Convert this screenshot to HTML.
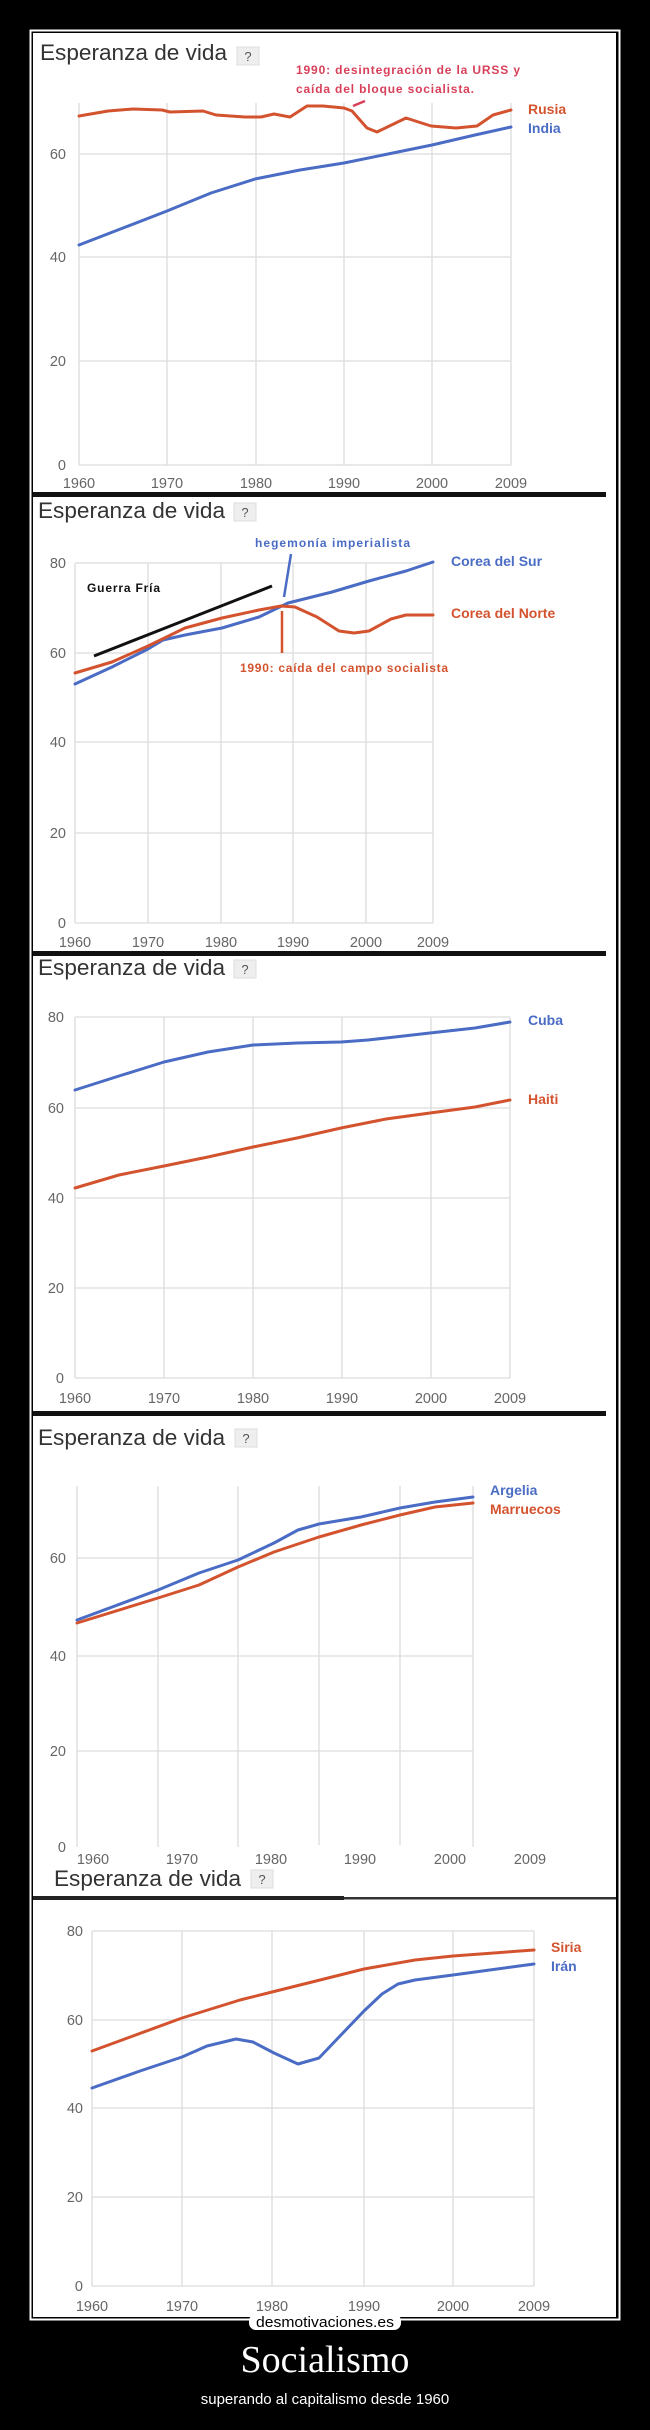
<!DOCTYPE html>
<html><head><meta charset="utf-8"><style>
html,body{margin:0;padding:0;background:#000;}
svg{display:block;}
.t{font-family:"Liberation Sans",sans-serif;font-size:22px;fill:#333;}
.ax{font-family:"Liberation Sans",sans-serif;font-size:14.5px;fill:#666;}
.g{stroke:#dcdcdc;stroke-width:1.3;fill:none;}
.b{stroke:#4a6cc4;stroke-width:3;fill:none;stroke-linejoin:round;stroke-linecap:round;}
.r{stroke:#d4532f;stroke-width:3;fill:none;stroke-linejoin:round;stroke-linecap:round;}
.lb{font-family:"Liberation Sans",sans-serif;font-size:14px;font-weight:bold;fill:#4a6cc4;}
.lr{font-family:"Liberation Sans",sans-serif;font-size:14px;font-weight:bold;fill:#d4532f;}
.an{font-family:"Liberation Sans",sans-serif;font-size:12px;font-weight:bold;}
</style></head><body>
<svg width="650" height="2430" viewBox="0 0 650 2430" xmlns="http://www.w3.org/2000/svg">
<rect width="650" height="2430" fill="#000"/>
<rect x="30.5" y="30.5" width="589" height="2289" fill="none" stroke="#fff" stroke-width="2"/>
<rect x="33" y="33" width="583" height="2284" fill="#fff"/>

<!-- Panel 1 -->
<text class="t" x="40" y="60" textLength="187" lengthAdjust="spacingAndGlyphs">Esperanza de vida</text>
<rect x="237" y="47" width="22" height="18" fill="#eee" stroke="#ddd"/>
<text x="248" y="61" text-anchor="middle" font-family="Liberation Sans" font-size="13" fill="#555">?</text>
<g class="g">
<path d="M79 103V465M167 103V465M256 103V465M344 103V465M432 103V465M511 103V465"/>
<path d="M79 465H511M79 361H511M79 257H511M79 154H511"/>
</g>
<g class="ax" text-anchor="end"><text x="66" y="159">60</text><text x="66" y="262">40</text><text x="66" y="366">20</text><text x="66" y="470">0</text></g>
<g class="ax" text-anchor="middle"><text x="79" y="488">1960</text><text x="167" y="488">1970</text><text x="256" y="488">1980</text><text x="344" y="488">1990</text><text x="432" y="488">2000</text><text x="511" y="488">2009</text></g>
<polyline class="b" points="79,245 123,228 167,211 211,193 255,179 300,170 344,163 388,154 432,145 475,135 511,127"/>
<polyline class="r" points="79,116 108,111 133,109 162,110 170,112 203,111 216,115 245,117 261,117 274,114 290,117 307,106 323,106 344,108 352,111 367,128 377,132 406,118 431,126 456,128 477,126 493,115 511,110"/>
<line x1="353" y1="106" x2="365" y2="101" stroke="#d8405a" stroke-width="2.5"/>
<text class="an" x="296" y="74" fill="#d8405a" textLength="224">1990: desintegración de la URSS y</text>
<text class="an" x="296" y="93" fill="#d8405a" textLength="178">caída del bloque socialista.</text>
<text class="lr" x="528" y="114">Rusia</text>
<text class="lb" x="528" y="133">India</text>
<rect x="33" y="492" width="573" height="5" fill="#111"/>

<!-- Panel 2 -->
<text class="t" x="38" y="518" textLength="187" lengthAdjust="spacingAndGlyphs">Esperanza de vida</text>
<rect x="234" y="503" width="22" height="18" fill="#eee" stroke="#ddd"/>
<text x="245" y="517" text-anchor="middle" font-family="Liberation Sans" font-size="13" fill="#555">?</text>
<g class="g">
<path d="M75 563V923M148 563V923M221 563V923M293 563V923M366 563V923M433 563V923"/>
<path d="M75 563H433M75 653H433M75 742H433M75 833H433M75 923H433"/>
</g>
<g class="ax" text-anchor="end"><text x="66" y="568">80</text><text x="66" y="658">60</text><text x="66" y="747">40</text><text x="66" y="838">20</text><text x="66" y="928">0</text></g>
<g class="ax" text-anchor="middle"><text x="75" y="947">1960</text><text x="148" y="947">1970</text><text x="221" y="947">1980</text><text x="293" y="947">1990</text><text x="366" y="947">2000</text><text x="433" y="947">2009</text></g>
<polyline class="b" points="75,684 112,667 148,649 163,640 185,635 222,628 259,617 288,603 332,592 369,581 406,571 433,562"/>
<polyline class="r" points="75,673 112,662 148,646 185,628 222,618 259,610 281,606 295,607 317,617 339,631 354,633 369,631 391,619 406,615 433,615"/>
<line x1="94" y1="656" x2="272" y2="586" stroke="#111" stroke-width="3"/>
<text class="an" x="87" y="592" fill="#111" textLength="73">Guerra Fría</text>
<text class="an" x="255" y="547" fill="#4a6cc4" textLength="155">hegemonía imperialista</text>
<line x1="291" y1="554" x2="284" y2="597" stroke="#4a6cc4" stroke-width="2.5"/>
<line x1="282" y1="611" x2="282" y2="653" stroke="#d4532f" stroke-width="2.5"/>
<text class="an" x="240" y="672" fill="#d4532f" textLength="208">1990: caída del campo socialista</text>
<text class="lb" x="451" y="566">Corea del Sur</text>
<text class="lr" x="451" y="618">Corea del Norte</text>
<rect x="33" y="951" width="573" height="5" fill="#111"/>

<!-- Panel 3 -->
<text class="t" x="38" y="975" textLength="187" lengthAdjust="spacingAndGlyphs">Esperanza de vida</text>
<rect x="234" y="960" width="22" height="18" fill="#eee" stroke="#ddd"/>
<text x="245" y="974" text-anchor="middle" font-family="Liberation Sans" font-size="13" fill="#555">?</text>
<g class="g">
<path d="M75 1017V1378M164 1017V1378M253 1017V1378M342 1017V1378M431 1017V1378M510 1017V1378"/>
<path d="M75 1017H510M75 1108H510M75 1198H510M75 1288H510M75 1378H510"/>
</g>
<g class="ax" text-anchor="end"><text x="64" y="1022">80</text><text x="64" y="1113">60</text><text x="64" y="1203">40</text><text x="64" y="1293">20</text><text x="64" y="1383">0</text></g>
<g class="ax" text-anchor="middle"><text x="75" y="1403">1960</text><text x="164" y="1403">1970</text><text x="253" y="1403">1980</text><text x="342" y="1403">1990</text><text x="431" y="1403">2000</text><text x="510" y="1403">2009</text></g>
<polyline class="b" points="75,1090 119,1076 164,1062 208,1052 253,1045 297,1043 341,1042 368,1040 386,1038 430,1033 475,1028 510,1022"/>
<polyline class="r" points="75,1188 119,1175 164,1166 208,1157 253,1147 297,1138 341,1128 386,1119 430,1113 475,1107 510,1100"/>
<text class="lb" x="528" y="1025">Cuba</text>
<text class="lr" x="528" y="1104">Haiti</text>
<rect x="33" y="1411" width="573" height="5" fill="#111"/>

<!-- Panel 4 -->
<text class="t" x="38" y="1445" textLength="187" lengthAdjust="spacingAndGlyphs">Esperanza de vida</text>
<rect x="235" y="1429" width="22" height="18" fill="#eee" stroke="#ddd"/>
<text x="246" y="1443" text-anchor="middle" font-family="Liberation Sans" font-size="13" fill="#555">?</text>
<g class="g">
<path d="M77 1486V1847M158 1486V1847M238 1486V1847M319 1486V1845M400 1486V1845M473 1486V1847"/>
<path d="M77 1558H473M77 1656H473M77 1751H473"/>
</g>
<g class="ax" text-anchor="end"><text x="66" y="1563">60</text><text x="66" y="1661">40</text><text x="66" y="1756">20</text><text x="66" y="1852">0</text></g>
<g class="ax" text-anchor="middle"><text x="93" y="1864">1960</text><text x="182" y="1864">1970</text><text x="271" y="1864">1980</text><text x="360" y="1864">1990</text><text x="450" y="1864">2000</text><text x="530" y="1864">2009</text></g>
<polyline class="r" points="77,1623 158,1598 199,1585 238,1567 274,1552 319,1537 361,1525 400,1515 435,1507 473,1503"/>
<polyline class="b" points="77,1620 158,1590 199,1573 238,1560 274,1543 298,1530 319,1524 361,1517 400,1508 435,1502 473,1497"/>
<text class="lb" x="490" y="1495">Argelia</text>
<text class="lr" x="490" y="1514">Marruecos</text>
<text class="t" x="54" y="1886" textLength="187" lengthAdjust="spacingAndGlyphs">Esperanza de vida</text>
<rect x="251" y="1870" width="22" height="18" fill="#eee" stroke="#ddd"/>
<text x="262" y="1884" text-anchor="middle" font-family="Liberation Sans" font-size="13" fill="#555">?</text>
<rect x="33" y="1896" width="311" height="4" fill="#222"/>
<rect x="344" y="1897" width="272" height="2.5" fill="#333"/>

<!-- Panel 5 -->
<g class="g">
<path d="M92 1931V2286M182 1931V2286M272 1931V2286M364 1931V2286M453 1931V2286M534 1931V2286"/>
<path d="M92 1931H534M92 2020H534M92 2108H534M92 2197H534M92 2286H534"/>
</g>
<g class="ax" text-anchor="end"><text x="83" y="1936">80</text><text x="83" y="2025">60</text><text x="83" y="2113">40</text><text x="83" y="2202">20</text><text x="83" y="2291">0</text></g>
<g class="ax" text-anchor="middle"><text x="92" y="2311">1960</text><text x="182" y="2311">1970</text><text x="272" y="2311">1980</text><text x="364" y="2311">1990</text><text x="453" y="2311">2000</text><text x="534" y="2311">2009</text></g>
<polyline class="r" points="92,2051 182,2018 240,2000 272,1992 320,1980 364,1969 415,1960 453,1956 534,1950"/>
<polyline class="b" points="92,2088 140,2071 182,2057 207,2046 236,2039 253,2042 274,2053 298,2064 319,2058 340,2036 364,2011 382,1994 398,1984 415,1980 453,1975 534,1964"/>
<text class="lr" x="551" y="1952">Siria</text>
<text class="lb" x="551" y="1971">Irán</text>

<!-- footer -->
<rect x="249" y="2314" width="152" height="16" rx="7" fill="#fff"/>
<text x="325" y="2327" text-anchor="middle" font-family="Liberation Sans" font-size="15" fill="#000" textLength="138" lengthAdjust="spacingAndGlyphs">desmotivaciones.es</text>
<text x="325" y="2372" text-anchor="middle" font-family="Liberation Serif" font-size="38" fill="#fff">Socialismo</text>
<text x="325" y="2404" text-anchor="middle" font-family="Liberation Sans" font-size="15" fill="#fff">superando al capitalismo desde 1960</text>
</svg>
</body></html>
